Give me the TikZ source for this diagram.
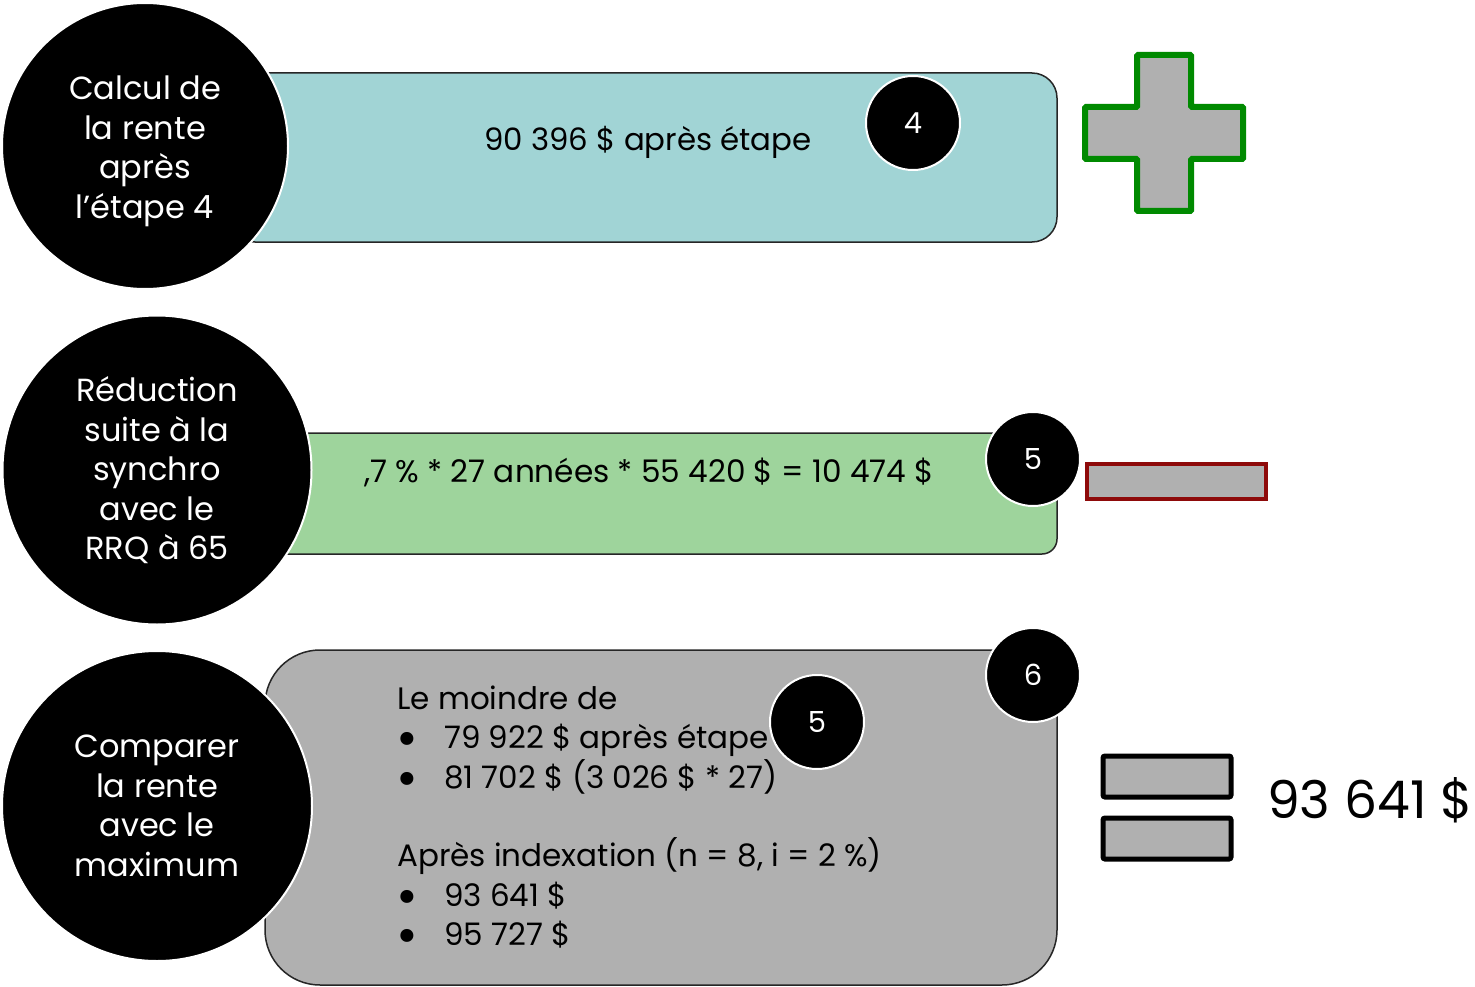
\documentclass[tikz,border=0pt]{standalone}
\usepackage{fontspec}
\setmainfont{Poppins}
\definecolor{teal1}{HTML}{A1D4D5}
\definecolor{green1}{HTML}{9ED49C}
\definecolor{gray1}{HTML}{B0B0B0}
\definecolor{plusgreen}{HTML}{008A00}
\definecolor{minusred}{HTML}{8E0A0A}
\newcommand{\circtext}[2]{\raisebox{#1}[\height][\depth]{\fontsize{32}{39.5}\selectfont\begin{tabular}{@{}c@{}}#2\end{tabular}}}
\newcommand{\bul}{\makebox[47pt][l]{\hspace{-1pt}\raisebox{-8pt}[0pt][0pt]{\scalebox{1.7}{•}}}}
\begin{document}
\begin{tikzpicture}[x=1pt,y=-1pt,
  bigcirc/.style={circle,fill=black,draw=white,line width=2pt,text=white,inner sep=0pt},
  numcirc/.style={circle,fill=black,draw=white,line width=2pt,text=white,minimum size=94pt,inner sep=0pt,font=\fontsize{29}{34}\selectfont},
  boxshape/.style={draw=black!85,line width=1.5pt},
  boxtext/.style={text=black,inner sep=0pt},
  graysym/.style={fill=gray1,line width=5pt,rounded corners=2pt}
]
\useasboundingbox (0,0) rectangle (1475,987);
% boxes
\draw[boxshape,fill=teal1,rounded corners=25pt] (230,73) rectangle (1057,242);
\draw[boxshape,fill=green1,rounded corners=15pt] (270,433) rectangle (1057,554);
\draw[boxshape,fill=gray1,rounded corners=55pt] (265,650) rectangle (1057,985);
% box texts
\node[boxtext,font=\fontsize{30.8}{36}\selectfont] (t1) at (648,142) {90 396 \$ après étape};
\node[boxtext,font=\fontsize{31.1}{36}\selectfont] (t2) at (649,472) {,7 \% * 27 années * 55 420 \$ = 10 474 \$};
\node[boxtext,anchor=west,align=left,font=\fontsize{31}{39.3}\selectfont] (t3) at (397,817) {Le moindre de\\
\bul 79 922 \$ après étape\\
\bul 81 702 \$ (3 026 \$ * 27)\\
\mbox{}\\
Après indexation (n = 8, i = 2 \%)\\
\bul 93 641 \$\\
\bul 95 727 \$};
% big circles
\node[bigcirc,minimum size=286pt] (c1) at (145,146) {\circtext{-5pt}{Calcul de\\la rente\\après\\l’étape 4}};
\node[bigcirc,minimum size=309pt] (c2) at (157,470) {\circtext{-3pt}{Réduction\\suite à la\\synchro\\avec le\\RRQ à 65}};
\node[bigcirc,minimum size=310pt] (c3) at (157,806) {\circtext{-3pt}{Comparer\\la rente\\avec le\\maximum}};
% number circles
\node[numcirc] (n4) at (913,123) {4};
\node[numcirc] (n5a) at (1033,459) {5};
\node[numcirc] (n6) at (1033,675) {6};
\node[numcirc] (n5b) at (817,722) {5};
% plus
\draw[fill=gray1,draw=plusgreen,line width=6pt,rounded corners=1pt]
  (1137,55) -- (1191,55) -- (1191,107) -- (1243,107) -- (1243,159) -- (1191,159) -- (1191,211) -- (1137,211) -- (1137,159) -- (1085,159) -- (1085,107) -- (1137,107) -- cycle;
% minus
\draw[fill=gray1,draw=minusred,line width=4pt] (1087,464) rectangle (1266,499);
% equals
\draw[graysym,draw=black] (1103,756) rectangle (1231,797);
\draw[graysym,draw=black] (1103,818) rectangle (1231,859);
\node[text=black,inner sep=0pt,anchor=west,font=\fontsize{52}{58}\selectfont] (res) at (1267,800) {93 641 \$};
\end{tikzpicture}
\end{document}
